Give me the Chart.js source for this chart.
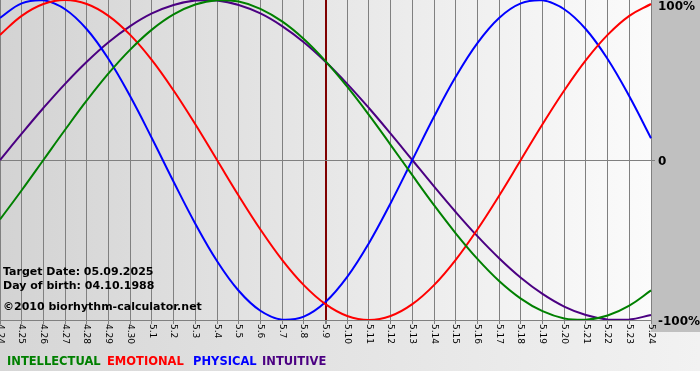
<!DOCTYPE html>
<html>
<head>
<meta charset="utf-8">
<script src="https://cdn.jsdelivr.net/npm/chart.js@4/dist/chart.umd.min.js"></script>
<style>
  html, body { margin: 0; padding: 0; background: #ffffff; }
  #wrap { width: 700px; height: 380px; position: relative; }
  canvas { display: block; }
</style>
</head>
<body>
<div id="wrap"><canvas id="c" width="700" height="380"></canvas></div>
<script>
// ---- data ----
const dayLabels = ['4.24','4.25','4.26','4.27','4.28','4.29','4.30',
  '5.1','5.2','5.3','5.4','5.5','5.6','5.7','5.8','5.9','5.10','5.11','5.12',
  '5.13','5.14','5.15','5.16','5.17','5.18','5.19','5.20','5.21','5.22','5.23','5.24'];

const intellectual = [-37.2,-18.9,0,18.9,37.2,54.1,69.0,81.5,91.0,97.2,99.9,99.0,94.5,86.6,75.6,61.8,
  45.8,28.2,9.5,-9.5,-28.2,-45.8,-61.8,-75.6,-86.6,-94.5,-99.0,-99.9,-97.2,-91.0,-81.5];
const emotional = [78.2,90.1,97.5,100,97.5,90.1,78.2,62.4,43.4,22.3,0,-22.3,-43.4,-62.4,-78.2,-90.1,
  -97.5,-100,-97.5,-90.1,-78.2,-62.4,-43.4,-22.3,0,22.3,43.4,62.4,78.2,90.1,97.5];
const physical = [88.8,97.9,99.8,94.2,81.7,63.1,39.8,13.6,-13.6,-39.8,-63.1,-81.7,-94.2,-99.8,-97.9,-88.8,
  -73.1,-52.0,-27.0,0,27.0,52.0,73.1,88.8,97.9,99.8,94.2,81.7,63.1,39.8,13.6];
const intuitive = [0,16.5,32.5,47.6,61.4,73.6,83.7,91.6,96.9,99.7,99.7,96.9,91.6,83.7,73.6,61.4,
  47.6,32.5,16.5,0,-16.5,-32.5,-47.6,-61.4,-73.6,-83.7,-91.6,-96.9,-99.7,-99.7,-96.9];

const seriesNames = ['INTELLECTUAL','EMOTIONAL','PHYSICAL','INTUITIVE'];
const yTickLabels = ['100%','0','-100%'];
const yTickValues = [100, 0, -100];
const targetLabel = '5.9';
const infoLines = ['Target Date: 05.09.2025','Day of birth: 04.10.1988','\u00A92010 biorhythm-calculator.net'];

const colors = ['#008000','#ff0000','#0000ff','#4b0082'];
const FONT = '"DejaVu Sans", Verdana, sans-serif';
const targetIdx = dayLabels.indexOf(targetLabel);

const bgPlugin = {
  id: 'bg',
  beforeDraw(chart) {
    const ctx = chart.ctx, a = chart.chartArea;
    ctx.save();
    ctx.fillStyle = '#ffffff';
    ctx.fillRect(0, 0, chart.width, chart.height);
    let g = ctx.createLinearGradient(0, 0, chart.width, 0);
    g.addColorStop(0, '#d6d6d6');
    g.addColorStop(1, '#f2f2f2');
    ctx.fillStyle = g;
    ctx.fillRect(0, a.bottom, chart.width, 51);
    ctx.fillStyle = '#c0c0c0';
    ctx.fillRect(a.right, 0, chart.width - a.right, a.bottom + 12);
    g = ctx.createLinearGradient(a.left, 0, a.right, 0);
    g.addColorStop(0, '#d3d3d3');
    g.addColorStop(1, '#fbfbfb');
    ctx.fillStyle = g;
    ctx.fillRect(a.left, a.top, a.right - a.left, a.bottom - a.top);
    ctx.restore();
  }
};

const textPlugin = {
  id: 'texts',
  afterDraw(chart) {
    const ctx = chart.ctx, a = chart.chartArea;
    const xs = chart.scales.x, ys = chart.scales.y;
    ctx.save();
    // x labels rotated clockwise
    ctx.fillStyle = '#000000';
    ctx.font = '9px ' + FONT;
    ctx.textAlign = 'left';
    ctx.textBaseline = 'middle';
    dayLabels.forEach((lab, i) => {
      const x = xs.getPixelForValue(i);
      ctx.save();
      ctx.translate(x, a.bottom + 4);
      ctx.rotate(Math.PI / 2);
      ctx.fillText(lab, 0, 0);
      ctx.restore();
    });
    // y labels
    ctx.font = 'bold 12px ' + FONT;
    yTickLabels.forEach((lab, i) => {
      let y = ys.getPixelForValue(yTickValues[i]);
      y = Math.max(7, Math.min(y + 1.5, chart.height));
      ctx.fillText(lab, a.right + 7, y);
    });
    // info text
    ctx.font = 'bold 11px ' + FONT;
    ctx.fillText(infoLines[0], 3, 272);
    ctx.fillText(infoLines[1], 3, 286);
    ctx.fillText(infoLines[2], 3, 307);
    // legend
    ctx.font = 'bold 11.5px ' + FONT;
    const lx = [7, 107, 193, 262];
    seriesNames.forEach((n, i) => {
      ctx.fillStyle = colors[i];
      ctx.fillText(n, lx[i], 362);
    });
    ctx.restore();
  }
};

const mk = (label, data, color) => ({
  label, data, borderColor: color, backgroundColor: color,
  borderWidth: 2, pointRadius: 0, tension: 0.4, fill: false
});

new Chart(document.getElementById('c'), {
  type: 'line',
  data: {
    labels: dayLabels,
    datasets: [
      mk(seriesNames[0], intellectual, colors[0]),
      mk(seriesNames[1], emotional, colors[1]),
      mk(seriesNames[2], physical, colors[2]),
      mk(seriesNames[3], intuitive, colors[3])
    ]
  },
  options: {
    responsive: false,
    maintainAspectRatio: false,
    animation: false,
    layout: { padding: 0 },
    plugins: { legend: { display: false }, tooltip: { enabled: false } },
    scales: {
      x: {
        type: 'category',
        offset: false,
        ticks: { display: false },
        grid: {
          color: c => c.index === targetIdx ? '#800000' : '#808080',
          lineWidth: c => c.index === targetIdx ? 2 : 1,
          tickLength: 4,
          tickColor: '#808080'
        },
        border: { color: '#808080', width: 1 },
        afterFit: s => { s.height = 60; }
      },
      y: {
        position: 'right',
        min: -100, max: 100,
        ticks: { display: false, stepSize: 100 },
        grid: {
          color: c => (c.tick && c.tick.value === 0) ? '#808080' : 'rgba(0,0,0,0)',
          tickLength: 4,
          tickColor: c => (c.tick && c.tick.value === 0) ? '#808080' : 'rgba(0,0,0,0)'
        },
        border: { display: false },
        afterFit: s => { s.width = 49; }
      }
    }
  },
  plugins: [bgPlugin, textPlugin]
});
</script>
</body>
</html>
